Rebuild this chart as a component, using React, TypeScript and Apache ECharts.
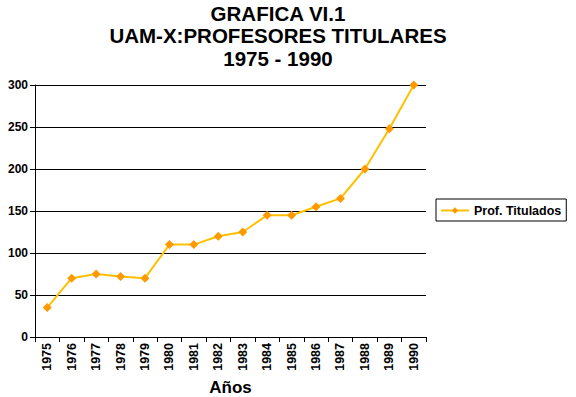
import React, { useEffect, useRef } from "react";
import * as echarts from "echarts";

const years = ["1975","1976","1977","1978","1979","1980","1981","1982","1983","1984","1985","1986","1987","1988","1989","1990"];
const titulados = [35, 70, 75, 72, 70, 110, 110, 120, 125, 145, 145, 155, 165, 200, 248, 300];
const titleLines = ["GRAFICA VI.1", "UAM-X:PROFESORES TITULARES", "1975 - 1990"];
const seriesName = "Prof. Titulados";
const xAxisTitle = "Años";

export default function App() {
  const ref = useRef<HTMLDivElement>(null);
  useEffect(() => {
    if (!ref.current) return;
    const chart = echarts.init(ref.current, null, { renderer: "svg" });
    const font = "'Liberation Sans', Arial, sans-serif";
    chart.setOption({
      animation: false,
      backgroundColor: "#ffffff",
      title: {
        text: titleLines.join("\n"),
        left: 273,
        top: 0,
        padding: [2, 5, 5, 5],
        textAlign: "center",
        textStyle: { fontFamily: font, fontWeight: "bold", fontSize: 20.5, lineHeight: 22.5, color: "#000" },
      },
      legend: {
        data: [seriesName],
        orient: "vertical",
        left: 436,
        top: 199,
        borderColor: "#000",
        borderWidth: 1,
        borderRadius: 0,
        padding: [5, 5, 4, 4],
        itemWidth: 28,
        itemHeight: 8,
        itemGap: 4,
        textStyle: { fontFamily: font, fontWeight: "bold", fontSize: 12.5, color: "#000" },
      },
      grid: { left: 35, right: 150, top: 85, bottom: 60, containLabel: false, outerBoundsMode: "none" },
      xAxis: {
        type: "category",
        data: years,
        boundaryGap: true,
        name: xAxisTitle,
        nameLocation: "middle",
        nameGap: 35,
        nameTextStyle: { fontFamily: font, fontSize: 17, fontWeight: "bold", color: "#000" },
        axisLine: { lineStyle: { color: "#000", width: 1 } },
        axisTick: { show: true, length: 5, lineStyle: { color: "#000" } },
        axisLabel: { rotate: 90, fontFamily: font, fontWeight: "bold", fontSize: 12.5, color: "#000", margin: 6 },
      },
      yAxis: {
        type: "value",
        min: 0,
        max: 300,
        interval: 50,
        axisLine: { show: true, lineStyle: { color: "#000", width: 1 } },
        axisTick: { show: true, length: 5, lineStyle: { color: "#000" } },
        axisLabel: { fontFamily: font, fontWeight: "bold", fontSize: 12, color: "#000", margin: 7 },
        splitLine: { show: true, lineStyle: { color: "#000", width: 1 } },
      },
      series: [
        {
          name: seriesName,
          type: "line",
          data: titulados,
          symbol: "diamond",
          symbolSize: 9,
          lineStyle: { color: "#FFC000", width: 2 },
          itemStyle: { color: "#FF9900", borderWidth: 0 },
        },
      ],
    });
    return () => chart.dispose();
  }, []);
  return <div ref={ref} style={{ width: 576, height: 397, position: "absolute", left: 0, top: 0 }} />;
}
